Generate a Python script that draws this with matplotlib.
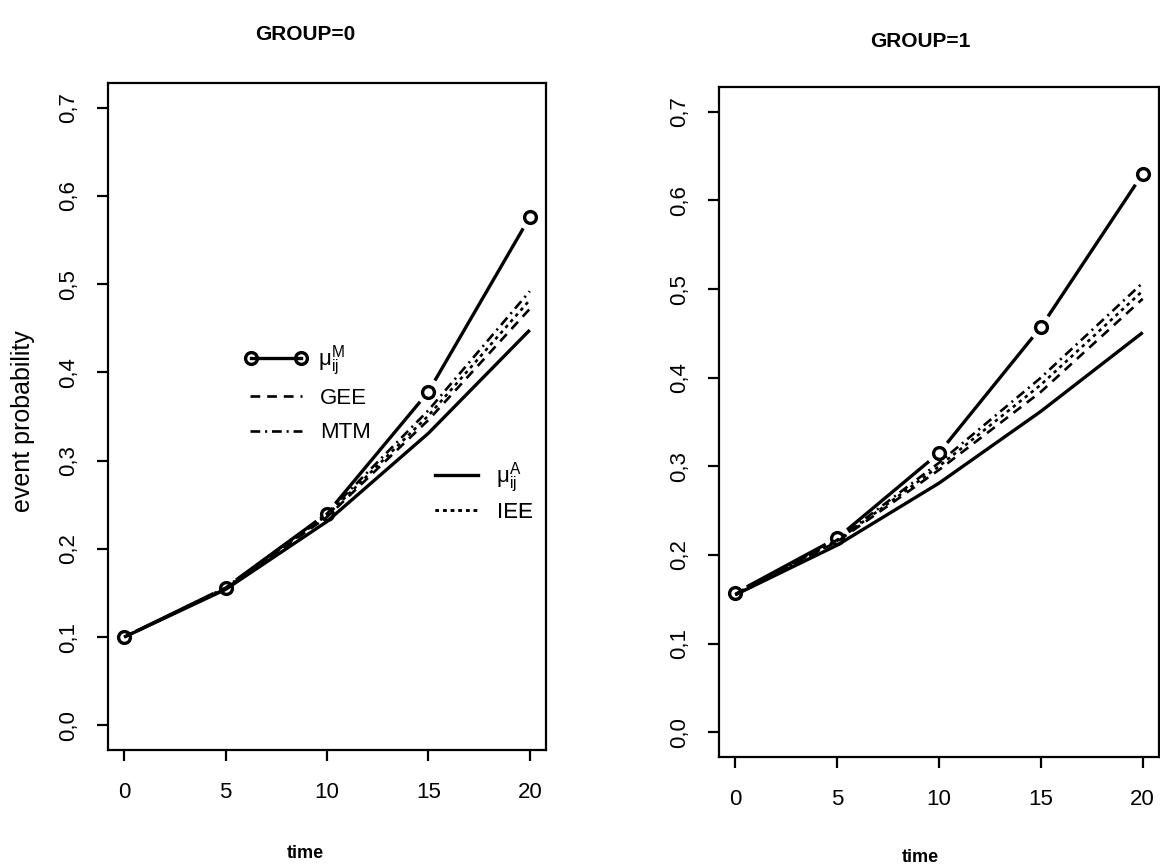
import matplotlib
matplotlib.use("Agg")
import matplotlib.pyplot as plt
import numpy as np
from matplotlib.ticker import FuncFormatter
from matplotlib.lines import Line2D

plt.rcParams["font.family"] = ["Liberation Sans", "DejaVu Sans"]
plt.rcParams["mathtext.fontset"] = "custom"
plt.rcParams["mathtext.rm"] = "Liberation Sans"
plt.rcParams["mathtext.it"] = "Liberation Sans:italic"
plt.rcParams["mathtext.bf"] = "Liberation Sans:bold"
plt.rcParams["lines.scale_dashes"] = False

# ---- data -------------------------------------------------------------
time_points = [0, 5, 10, 15, 20]

# GROUP=0
g0_mu_M = [0.100, 0.156, 0.240, 0.378, 0.576]
g0_mu_A = [0.100, 0.154, 0.231, 0.331, 0.448]
g0_gee = [0.100, 0.155, 0.236, 0.346, 0.472]
g0_iee = [0.100, 0.155, 0.238, 0.351, 0.482]
g0_mtm = [0.100, 0.156, 0.240, 0.357, 0.492]

# GROUP=1
g1_mu_M = [0.157, 0.219, 0.315, 0.457, 0.630]
g1_mu_A = [0.155, 0.211, 0.281, 0.362, 0.451]
g1_gee = [0.155, 0.215, 0.296, 0.384, 0.489]
g1_iee = [0.155, 0.216, 0.300, 0.392, 0.498]
g1_mtm = [0.156, 0.217, 0.304, 0.400, 0.507]

x_ticks = [0, 5, 10, 15, 20]
y_ticks = [0.0, 0.1, 0.2, 0.3, 0.4, 0.5, 0.6, 0.7]
panel_titles = ["GROUP=0", "GROUP=1"]

# ---- styles -----------------------------------------------------------
LW_SOLID = 2.4
LW_BROKEN = 1.9
GEE_DASH = (0, (7, 5))
MTM_DASH = (0, (7, 3.5, 1.5, 3.5))
IEE_DASH = (0, (2.5, 3))

W, H = 1160, 867
fig = plt.figure(figsize=(W / 100, H / 100), dpi=100)


def px_axes(left, right, top, bottom):
    return fig.add_axes([left / W, (H - bottom) / H, (right - left) / W, (bottom - top) / H])


def gapped_line(ax, x, y, gap_px, **kw):
    """Straight segments between points, stopped short of each point (R type='b')."""
    pts = ax.transData.transform(np.column_stack([x, y]))
    inv = ax.transData.inverted()
    for p0, p1 in zip(pts[:-1], pts[1:]):
        d = p1 - p0
        L = np.hypot(*d)
        if L <= 2 * gap_px:
            continue
        u = d / L
        a = inv.transform(p0 + u * gap_px)
        b = inv.transform(p1 - u * gap_px)
        ax.plot([a[0], b[0]], [a[1], b[1]], **kw)


comma_fmt = FuncFormatter(lambda v, pos: f"{v:.1f}".replace(".", ","))


def style_axes(ax):
    ax.set_xlim(-0.8, 20.8)
    ax.set_ylim(-0.028, 0.728)
    ax.set_xticks(x_ticks)
    ax.set_yticks(y_ticks)
    ax.yaxis.set_major_formatter(comma_fmt)
    for s in ax.spines.values():
        s.set_linewidth(1.6)
    ax.tick_params(axis="both", direction="out", length=8, width=1.6, labelsize=16)
    ax.tick_params(axis="x", pad=15)
    ax.tick_params(axis="y", pad=13, labelrotation=90)
    for lbl in ax.get_yticklabels():
        lbl.set_verticalalignment("center")


def draw_panel(ax, mu_M, mu_A, gee, iee, mtm):
    ax.plot(time_points, mu_A, color="black", lw=LW_SOLID, solid_capstyle="butt")
    ax.plot(time_points, gee, color="black", lw=LW_BROKEN, linestyle=GEE_DASH)
    ax.plot(time_points, iee, color="black", lw=LW_BROKEN, linestyle=IEE_DASH)
    ax.plot(time_points, mtm, color="black", lw=LW_BROKEN, linestyle=MTM_DASH)
    gapped_line(ax, time_points, mu_M, 13, color="black", lw=LW_SOLID,
                solid_capstyle="butt")
    ax.plot(time_points, mu_M, linestyle="none", marker="o", ms=8.5,
            mfc="none", mec="black", mew=2.4)


# left panel
ax0 = px_axes(108, 546, 83, 750)
style_axes(ax0)
draw_panel(ax0, g0_mu_M, g0_mu_A, g0_gee, g0_iee, g0_mtm)
ax0.set_title(panel_titles[0], fontsize=15, fontweight="bold", x=(305 - 108) / 438, pad=31)
ax0.set_xlabel("time", fontsize=13, fontweight="bold")
ax0.xaxis.set_label_coords((305 - 108) / 438, (750 - 845) / 667)
ax0.set_ylabel("event probability", fontsize=18)
ax0.yaxis.set_label_coords((35 - 108) / 438, (750 - 421) / 667)

# right panel
ax1 = px_axes(719, 1159, 87, 757)
style_axes(ax1)
draw_panel(ax1, g1_mu_M, g1_mu_A, g1_gee, g1_iee, g1_mtm)
ax1.set_title(panel_titles[1], fontsize=15, fontweight="bold", x=(920 - 719) / 440, pad=29)
ax1.set_xlabel("time", fontsize=13, fontweight="bold")
ax1.xaxis.set_label_coords((920 - 719) / 440, (757 - 849) / 670)

# legend keys (left panel), one row per entry
h_muM = Line2D([], [], color="black", lw=LW_SOLID, marker="o", ms=8.5,
               mfc="none", mec="black", mew=2.4)
h_gee = Line2D([], [], color="black", lw=LW_BROKEN, linestyle=GEE_DASH)
h_mtm = Line2D([], [], color="black", lw=LW_BROKEN, linestyle=MTM_DASH)
h_muA = Line2D([], [], color="black", lw=LW_SOLID)
h_iee = Line2D([], [], color="black", lw=LW_BROKEN, linestyle=IEE_DASH)

LEG_FS = 16
em = LEG_FS * 100 / 72.0


def key_row(ax, handle, label, x_px, y_px, handle_px, text_px, **kw):
    ax_l, ax_b, ax_w, ax_h = ax.get_position().bounds
    x0 = (x_px / W - ax_l) / ax_w
    y0 = ((H - y_px) / H - ax_b) / ax_h
    leg = ax.legend([handle], [label], loc="center left", bbox_to_anchor=(x0, y0),
                    frameon=False, fontsize=LEG_FS, handlelength=handle_px / em,
                    handletextpad=(text_px - x_px - handle_px) / em,
                    borderpad=0, borderaxespad=0, handleheight=0.7, **kw)
    ax.add_artist(leg)


key_row(ax0, h_muM, r"$\mathrm{\mu_{ij}^{M}}$", 244, 361, 64, 318, numpoints=2)
key_row(ax0, h_gee, "GEE", 250, 398, 52, 320)
key_row(ax0, h_mtm, "MTM", 250, 433, 52, 320)
key_row(ax0, h_muA, r"$\mathrm{\mu_{ij}^{A}}$", 435, 478, 43, 496)
key_row(ax0, h_iee, "IEE", 435, 512, 43, 497)

fig.savefig("out.png", dpi=100)
